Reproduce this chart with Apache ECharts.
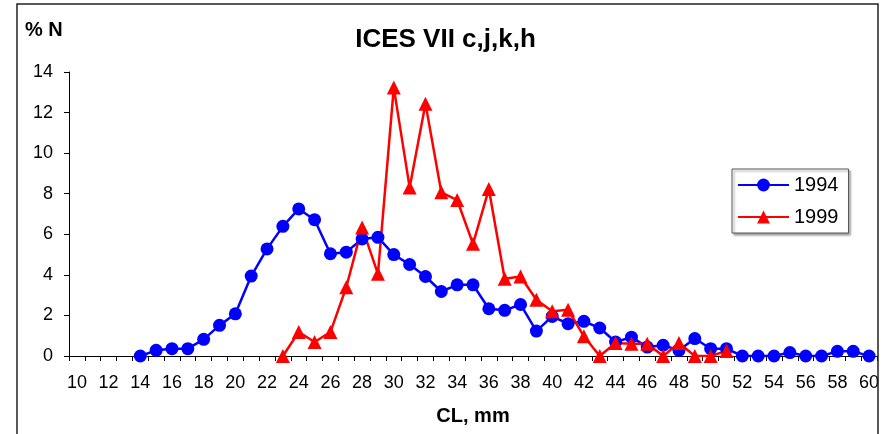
<!DOCTYPE html>
<html>
<head>
<meta charset="utf-8">
<script src="https://cdn.jsdelivr.net/npm/echarts@6/dist/echarts.min.js"></script>
<style>
html,body{margin:0;padding:0;background:#fff;}
#c{width:891px;height:434px;}
</style>
</head>
<body>
<div id="c"></div>
<script>
var categories = [];
for (var c = 10; c <= 60; c++) categories.push(String(c));

var yTicks = [0, 2, 4, 6, 8, 10, 12, 14];

var s1994 = ['-','-','-','-',
  0, 0.28, 0.36, 0.36, 0.82, 1.51, 2.08, 3.94, 5.28, 6.39,
  7.25, 6.72, 5.04, 5.12, 5.77, 5.85, 5.0, 4.51, 3.92, 3.18,
  3.51, 3.51, 2.33, 2.25, 2.54, 1.23, 1.95, 1.59, 1.71, 1.38,
  0.69, 0.93, 0.44, 0.53, 0.28, 0.86, 0.36, 0.36, 0, 0,
  0, 0.17, 0, 0, 0.23, 0.23, 0];

var s1999 = ['-','-','-','-','-','-','-','-','-','-','-','-','-',
  0, 1.18, 0.69, 1.18, 3.39, 6.34, 4.05, 13.23, 8.31, 12.44,
  8.07, 7.69, 5.53, 8.23, 3.81, 3.92, 2.77, 2.21, 2.28, 0.97,
  0, 0.64, 0.6, 0.6, 0, 0.64, 0, 0, 0.25,
  '-','-','-','-','-','-','-','-','-'];

var FONT = '"Liberation Sans", Arial, sans-serif';
var chart = echarts.init(document.getElementById('c'), null, {renderer: 'canvas'});
chart.setOption({
  animation: false,
  backgroundColor: '#ffffff',
  textStyle: {fontFamily: FONT, color: '#000'},
  title: {
    text: 'ICES VII c,j,k,h',
    left: 'center',
    top: 22,
    textStyle: {fontFamily: FONT, fontSize: 26, fontWeight: 'bold', color: '#000'}
  },
  graphic: [
    {type: 'rect', silent: true, z: 100,
     shape: {x: 17, y: 4, width: 861, height: 460},
     style: {fill: 'none', stroke: '#222', lineWidth: 1.5}},
    {type: 'text', left: 25, top: 20, z: 100,
     style: {text: '% N', font: 'bold 20px ' + FONT, fill: '#000'}}
  ],
  legend: {
    left: 732, top: 169,
    orient: 'vertical',
    itemWidth: 51, itemHeight: 16, itemGap: 12,
    padding: [6, 10, 6, 5],
    borderColor: '#555', borderWidth: 1,
    backgroundColor: '#fff',
    shadowColor: 'rgba(0,0,0,0.35)', shadowOffsetX: 2, shadowOffsetY: 2, shadowBlur: 2,
    textStyle: {fontFamily: FONT, fontSize: 20, color: '#000'},
    data: ['1994', '1999']
  },
  grid: {left: 69, right: 14, top: 72, bottom: 78, containLabel: false},
  xAxis: {
    type: 'category',
    data: categories,
    boundaryGap: true,
    name: 'CL, mm',
    nameLocation: 'middle',
    nameGap: 50,
    nameTextStyle: {fontFamily: FONT, fontSize: 20, fontWeight: 'bold', color: '#000'},
    axisLine: {lineStyle: {color: '#000', width: 1}},
    axisTick: {show: true, interval: 0, length: 5, inside: false, lineStyle: {color: '#000'}},
    axisLabel: {interval: 1, margin: 18, fontSize: 18, color: '#000', fontFamily: FONT},
    splitLine: {show: false}
  },
  yAxis: {
    type: 'value',
    min: yTicks[0], max: yTicks[yTicks.length - 1], interval: 2,
    axisLine: {show: true, lineStyle: {color: '#000', width: 1}},
    axisTick: {show: true, length: 5, inside: false, lineStyle: {color: '#000'}},
    axisLabel: {margin: 16, fontSize: 18, color: '#000', fontFamily: FONT},
    splitLine: {show: false}
  },
  series: [
    {name: '1994', type: 'line', data: s1994,
     symbol: 'circle', symbolSize: 13, showAllSymbol: true,
     itemStyle: {color: '#0000ff'},
     lineStyle: {color: '#0000ff', width: 2.5}},
    {name: '1999', type: 'line', data: s1999,
     symbol: 'triangle', symbolSize: 14, showAllSymbol: true,
     itemStyle: {color: '#ff0000'},
     lineStyle: {color: '#ff0000', width: 2.5}}
  ]
});
</script>
</body>
</html>
